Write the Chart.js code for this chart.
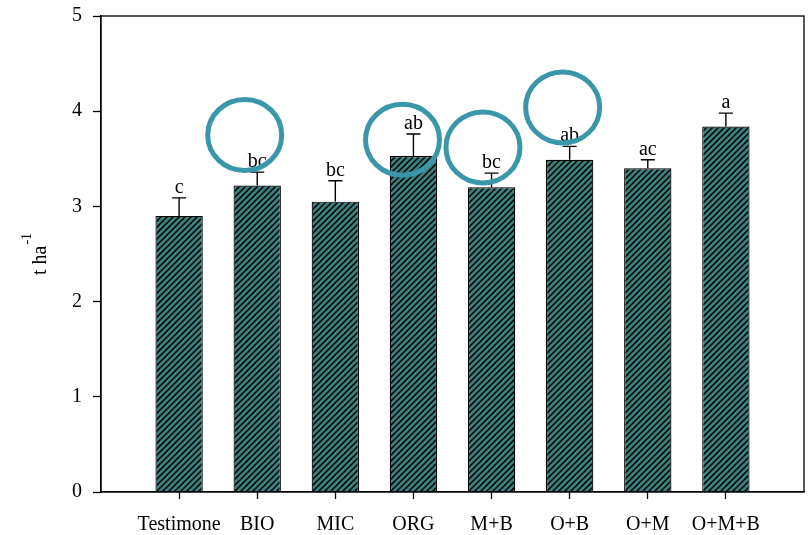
<!DOCTYPE html>
<html>
<head>
<meta charset="utf-8">
<script src="https://cdn.jsdelivr.net/npm/chart.js@4"></script>
<style>
  html, body { margin: 0; padding: 0; background: #fff; }
  #wrap { width: 808px; height: 535px; position: relative; }
</style>
</head>
<body>
<div id="wrap"><canvas id="c"></canvas></div>
<script>
// Treatments, mean yield (t/ha), standard error and significance groups
const categories = ['Testimone', 'BIO', 'MIC', 'ORG', 'M+B', 'O+B', 'O+M', 'O+M+B'];
const means      = [2.90, 3.22, 3.05, 3.53, 3.20, 3.49, 3.40, 3.84];
const errors     = [0.19, 0.14, 0.22, 0.23, 0.15, 0.14, 0.09, 0.14];
const groups     = ['c', 'bc', 'bc', 'ab', 'bc', 'ab', 'ac', 'a'];
const yTickValues = [0, 1, 2, 3, 4, 5];

const SERIF = "'Liberation Serif', 'Times New Roman', serif";
const TEAL = '#3b807d';
const RING = '#3a97a9';

// Empty slots at both ends give the axis half-gap margins around the bars
const axisLabels = [''].concat(categories, ['']);
const barData = [null].concat(means, [null]);
const errData = [null].concat(errors, [null]);
const groupData = [null].concat(groups, [null]);

// Highlight rings, in axis units (category position, y value)
const rings = [
  { x: 1.84, y: 3.75 },
  { x: 3.86, y: 3.70 },
  { x: 4.89, y: 3.62 },
  { x: 5.91, y: 4.04 }
];

function hatchPattern() {
  const s = 6;
  const cv = document.createElement('canvas');
  cv.width = s; cv.height = s;
  const g = cv.getContext('2d');
  g.fillStyle = TEAL;
  g.fillRect(0, 0, s, s);
  g.strokeStyle = '#000';
  g.lineWidth = 1.5;
  g.beginPath();
  g.moveTo(-1, s + 1); g.lineTo(s + 1, -1);
  g.moveTo(-1, 1); g.lineTo(1, -1);
  g.moveTo(s - 1, s + 1); g.lineTo(s + 1, s - 1);
  g.stroke();
  return g.createPattern(cv, 'repeat');
}

const errorBars = {
  id: 'errorBars',
  afterDatasetsDraw(chart) {
    const ctx = chart.ctx;
    const ys = chart.scales.y;
    const meta = chart.getDatasetMeta(0);
    ctx.save();
    ctx.strokeStyle = '#000';
    ctx.lineWidth = 1.4;
    ctx.fillStyle = '#000';
    ctx.font = '20px ' + SERIF;
    ctx.textAlign = 'center';
    ctx.textBaseline = 'alphabetic';
    meta.data.forEach((el, i) => {
      if (barData[i] === null) return;
      const top = ys.getPixelForValue(barData[i] + errData[i]);
      ctx.beginPath();
      ctx.moveTo(el.x, el.y);
      ctx.lineTo(el.x, top);
      ctx.moveTo(el.x - 7, top);
      ctx.lineTo(el.x + 7, top);
      ctx.stroke();
      ctx.fillText(groupData[i], el.x, top - 5);
    });
    ctx.restore();
  }
};

const frameAndTitle = {
  id: 'frameAndTitle',
  afterDraw(chart) {
    const ctx = chart.ctx;
    const a = chart.chartArea;
    ctx.save();
    // plot frame
    ctx.strokeStyle = '#000';
    ctx.lineWidth = 1.3;
    ctx.strokeRect(a.left, a.top, a.right - a.left, a.bottom - a.top);
    // y-axis title with superscript
    const main = 't ha';
    const sup = '-1';
    ctx.fillStyle = '#000';
    ctx.font = '20px ' + SERIF;
    const w1 = ctx.measureText(main).width;
    ctx.font = '14px ' + SERIF;
    const w2 = ctx.measureText(sup).width;
    const total = w1 + w2 + 1;
    ctx.translate(46, (a.top + a.bottom) / 2);
    ctx.rotate(-Math.PI / 2);
    ctx.textAlign = 'left';
    ctx.textBaseline = 'alphabetic';
    ctx.font = '20px ' + SERIF;
    ctx.fillText(main, -total / 2, 0);
    ctx.font = '14px ' + SERIF;
    ctx.fillText(sup, -total / 2 + w1 + 1, -15);
    ctx.restore();

    // highlight rings
    const xs = chart.scales.x, ys = chart.scales.y;
    ctx.save();
    ctx.strokeStyle = RING;
    ctx.lineWidth = 5;
    rings.forEach(r => {
      ctx.beginPath();
      ctx.ellipse(xs.getPixelForValue(r.x), ys.getPixelForValue(r.y), 37, 35.5, 0, 0, Math.PI * 2);
      ctx.stroke();
    });
    ctx.restore();
  }
};

new Chart(document.getElementById('c'), {
  type: 'bar',
  data: {
    labels: axisLabels,
    datasets: [{
      data: barData,
      backgroundColor: hatchPattern(),
      borderColor: '#000',
      borderWidth: 1.2,
      borderSkipped: 'bottom',
      barPercentage: 0.606,
      categoryPercentage: 1
    }]
  },
  options: {
    responsive: true,
    maintainAspectRatio: false,
    animation: false,
    layout: { padding: { top: 16, right: 4, left: 0, bottom: 0 } },
    plugins: { legend: { display: false }, tooltip: { enabled: false } },
    scales: {
      x: {
        type: 'category',
        offset: false,
        grid: {
          display: true,
          offset: false,
          drawOnChartArea: false,
          tickLength: 7,
          tickWidth: 1.3,
          tickColor: (c) => (c.index === 0 || c.index === axisLabels.length - 1) ? 'rgba(0,0,0,0)' : '#000'
        },
        border: { display: true, color: '#000', width: 1.3 },
        ticks: {
          autoSkip: false,
          maxRotation: 0,
          minRotation: 0,
          padding: 14,
          color: '#000',
          font: { family: SERIF, size: 20 }
        },
        afterFit(scale) {
          scale.height = 43;
          scale.paddingLeft = 0;
          scale.paddingRight = 0;
        }
      },
      y: {
        min: 0,
        max: 5,
        afterBuildTicks(scale) { scale.ticks = yTickValues.map(v => ({ value: v })); },
        grid: {
          display: true,
          drawOnChartArea: false,
          tickLength: 8,
          tickWidth: 1.3,
          tickColor: '#000'
        },
        border: { display: true, color: '#000', width: 1.3 },
        ticks: {
          padding: 11,
          color: '#000',
          font: { family: SERIF, size: 20 }
        },
        afterFit(scale) {
          scale.width = 101;
          scale.paddingTop = 0;
          scale.paddingBottom = 0;
        }
      }
    }
  },
  plugins: [errorBars, frameAndTitle]
});
</script>
</body>
</html>
